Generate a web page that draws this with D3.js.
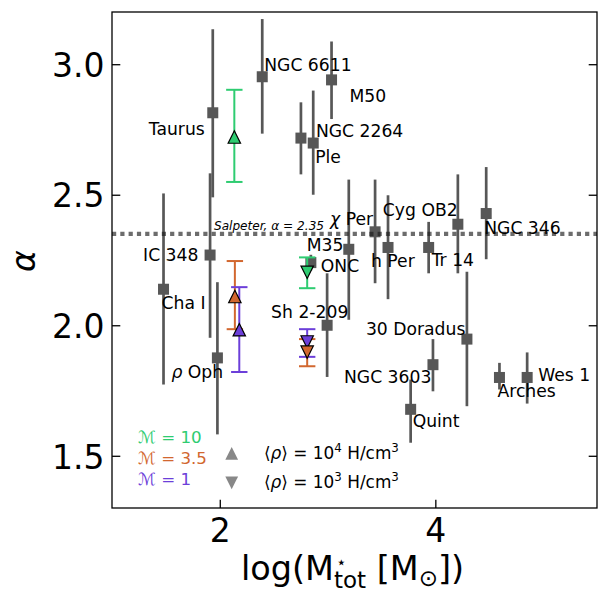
<!DOCTYPE html>
<html>
<head>
<meta charset="utf-8">
<script src="https://cdn.jsdelivr.net/npm/d3@7"></script>
<style>
  body { margin: 0; background: #fff; }
  text { font-family: "DejaVu Sans", sans-serif; }
</style>
</head>
<body>
<svg id="chart" width="601" height="591"></svg>
<script>
// Observed young clusters: total stellar mass (log) vs. IMF slope alpha
const clusterNames = ["Taurus", "IC 348", "Cha I", "ρ Oph", "NGC 6611", "M50", "NGC 2264", "Ple",
  "ONC", "M35", "Sh 2-209", "χ Per", "h Per", "Tr 14", "Cyg OB2", "NGC 346",
  "30 Doradus", "NGC 3603", "Quint", "Arches", "Wes 1"];
const clusterLogMass = [1.935, 1.91, 1.478, 1.978, 2.394, 3.037, 2.753, 2.867,
  2.845, 3.197, 2.996, 3.441, 3.561, 3.938, 4.209, 4.472,
  4.293, 3.978, 3.771, 4.595, 4.852];
const clusterAlpha = [2.814, 2.269, 2.138, 1.875, 2.952, 2.94, 2.717, 2.698,
  2.24, 2.291, 2.0, 2.358, 2.298, 2.298, 2.387, 2.428,
  1.947, 1.849, 1.678, 1.80, 1.80];
const clusterAlphaLow = [2.49, 1.952, 1.773, 1.582, 2.734, 2.79, 2.578, 2.50,
  2.21, 2.021, 1.802, 2.161, 2.10, 2.199, 2.199, 2.253,
  1.69, 1.747, 1.55, 1.754, 1.70];
const clusterAlphaHigh = [3.134, 2.582, 2.505, 2.165, 3.173, 3.087, 2.854, 2.899,
  2.27, 2.558, 2.199, 2.558, 2.498, 2.396, 2.578, 2.606,
  2.205, 1.947, 1.792, 1.856, 1.896];

// Simulations: Mach number runs at two mean densities
const machLabels = ["10", "3.5", "1"];
const denseLogMass = [2.135, 2.14, 2.181];        // <rho> = 1e4 H/cm^3
const denseAlpha = [2.721, 2.11, 1.983];
const denseAlphaLow = [2.549, 1.985, 1.821];
const denseAlphaHigh = [2.902, 2.246, 2.146];
const diffuseLogMass = [2.811, 2.811, 2.811];     // <rho> = 1e3 H/cm^3
const diffuseAlpha = [2.203, 1.897, 1.936];
const diffuseAlphaLow = [2.142, 1.843, 1.879];
const diffuseAlphaHigh = [2.26, 1.947, 1.985];
const densityExponents = ["4", "3"];

const salpeterAlpha = 2.35;
const xTicks = [2, 4];
const yTicks = [1.5, 2.0, 2.5, 3.0];

// ---- layout / styling ----
const machColors = ["#2ecc71", "#d2672f", "#6c3fd9"];
const markerOrder = [0, 2, 1]; // draw M=10, then M=1, then M=3.5 on top
// label offsets from each cluster marker, in pixels
const labelOffsets = [[-64, 22], [-67, 6], [-2, 20], [-46, 20], [2, -6], [18, 22], [15, -1], [2, 20],
  [10, 9], [-42, 2], [-56, -7], [-45, -7], [-17, 20], [3, 19], [-75, -8], [-2, 20],
  [-101, -4], [-89, 18], [2, 18], [-2, 20], [11, 4]];

const svg = d3.select("#chart");
const plotL = 112, plotR = 597, plotT = 12, plotB = 508;
const x = d3.scaleLinear().domain([1, 5.5]).range([plotL, plotR]);
const y = d3.scaleLinear().domain([1.3, 3.2]).range([plotB, plotT]);

// Salpeter reference line
svg.append("line")
  .attr("x1", plotL).attr("x2", plotR)
  .attr("y1", y(salpeterAlpha)).attr("y2", y(salpeterAlpha))
  .attr("stroke", "#6c6c6c").attr("stroke-width", 4.2)
  .attr("stroke-dasharray", "4.2,4.1");

svg.append("text")
  .attr("x", 214).attr("y", y(salpeterAlpha) - 4)
  .attr("font-size", 12.1).attr("font-style", "italic")
  .text("Salpeter, α = 2.35");

// Observed clusters: semi-transparent error bars and squares
const clusters = clusterNames.map((name, i) => ({
  name, lm: clusterLogMass[i], a: clusterAlpha[i],
  lo: clusterAlphaLow[i], hi: clusterAlphaHigh[i], off: labelOffsets[i]
}));

const cg = svg.append("g").selectAll("g").data(clusters).join("g")
  .attr("opacity", 0.73);
cg.append("line")
  .attr("x1", d => x(d.lm)).attr("x2", d => x(d.lm))
  .attr("y1", d => y(d.lo)).attr("y2", d => y(d.hi))
  .attr("stroke", "#1a1a1a").attr("stroke-width", 2.7);
cg.append("rect")
  .attr("x", d => x(d.lm) - 5.5).attr("y", d => y(d.a) - 5.5)
  .attr("width", 11).attr("height", 11)
  .attr("fill", "#1a1a1a");

// Cluster names
const lbl = svg.append("g").selectAll("text").data(clusters).join("text")
  .attr("x", d => x(d.lm) + d.off[0])
  .attr("y", d => y(d.a) + d.off[1])
  .attr("font-size", 17.2)
  .attr("fill", "#000");
lbl.each(function(d) {
  const t = d3.select(this);
  const first = d.name[0];
  if (/[α-ω]/.test(first)) {
    t.append("tspan").attr("font-style", "italic").text(first);
    t.append("tspan").text(d.name.slice(1));
  } else {
    t.text(d.name);
  }
});

// Simulation runs
function simSeries(lm, a, lo, hi, dir) {
  return machLabels.map((m, i) => ({ lm: lm[i], a: a[i], lo: lo[i], hi: hi[i], color: machColors[i], dir, i }));
}
const sims = simSeries(denseLogMass, denseAlpha, denseAlphaLow, denseAlphaHigh, "up")
  .concat(simSeries(diffuseLogMass, diffuseAlpha, diffuseAlphaLow, diffuseAlphaHigh, "down"));

const capW = 8.2;
const sb = svg.append("g").selectAll("g").data(sims).join("g")
  .attr("stroke", d => d.color).attr("stroke-width", 2);
sb.append("line")
  .attr("x1", d => x(d.lm)).attr("x2", d => x(d.lm))
  .attr("y1", d => y(d.lo)).attr("y2", d => y(d.hi));
sb.append("line")
  .attr("x1", d => x(d.lm) - capW).attr("x2", d => x(d.lm) + capW)
  .attr("y1", d => y(d.lo)).attr("y2", d => y(d.lo));
sb.append("line")
  .attr("x1", d => x(d.lm) - capW).attr("x2", d => x(d.lm) + capW)
  .attr("y1", d => y(d.hi)).attr("y2", d => y(d.hi));

function triPath(dir, h) {
  return dir === "up"
    ? `M0,${-h}L${h},${h}L${-h},${h}Z`
    : `M0,${h}L${h},${-h}L${-h},${-h}Z`;
}
const orderedSims = [];
["up", "down"].forEach(dir => markerOrder.forEach(i => orderedSims.push(sims.find(s => s.dir === dir && s.i === i))));
svg.append("g").selectAll("path").data(orderedSims).join("path")
  .attr("transform", d => `translate(${x(d.lm)},${y(d.a)})`)
  .attr("d", d => triPath(d.dir, 6.2))
  .attr("fill", d => d.color)
  .attr("stroke", "#000").attr("stroke-width", 1.2)
  .attr("stroke-linejoin", "miter");

// Legend: Mach numbers
const legM = svg.append("g");
machLabels.forEach((m, i) => {
  const t = legM.append("text")
    .attr("x", 138).attr("y", 443 + i * 21.2)
    .attr("font-size", 16.7).attr("fill", machColors[i]);
  t.append("tspan").attr("font-style", "italic").text("ℳ");
  t.append("tspan").text(" = " + m);
});

// Legend: densities
const legD = svg.append("g");
densityExponents.forEach((e, i) => {
  const cy = 453.3 + i * 29.5;
  legD.append("path")
    .attr("transform", `translate(231.7,${cy})`)
    .attr("d", triPath(i === 0 ? "up" : "down", 6.4))
    .attr("fill", "#888");
  const t = legD.append("text")
    .attr("x", 264).attr("y", cy + 5.5)
    .attr("font-size", 16.9);
  t.append("tspan").text("⟨");
  t.append("tspan").attr("font-style", "italic").text("ρ");
  t.append("tspan").text("⟩ = 10");
  t.append("tspan").attr("font-size", 11.8).attr("dy", -7).text(e);
  t.append("tspan").attr("dy", 7).text(" H/cm");
  t.append("tspan").attr("font-size", 11.8).attr("dy", -7).text("3");
});

// Axes with inward ticks
const tickFont = 33;
const yAxis = svg.append("g").attr("transform", `translate(${plotL},0)`)
  .call(d3.axisLeft(y).tickValues(yTicks).tickFormat(d3.format(".1f")).tickSize(-8.3).tickPadding(7.5));
const yAxisR = svg.append("g").attr("transform", `translate(${plotR},0)`)
  .call(d3.axisRight(y).tickValues(yTicks).tickFormat("").tickSize(-8.3));
const xAxis = svg.append("g").attr("transform", `translate(0,${plotB})`)
  .call(d3.axisBottom(x).tickValues(xTicks).tickFormat(d3.format("d")).tickSize(-8.3).tickPadding(10.6));
[yAxis, yAxisR, xAxis].forEach(g => {
  g.select(".domain").remove();
  g.selectAll(".tick line").attr("stroke", "#000").attr("stroke-width", 1.3);
  g.selectAll(".tick text").attr("font-size", tickFont).attr("fill", "#000")
    .attr("font-family", "DejaVu Sans");
});
yAxis.selectAll(".tick text").attr("dy", "0.37em");

// Frame
svg.append("rect")
  .attr("x", plotL).attr("y", plotT)
  .attr("width", plotR - plotL).attr("height", plotB - plotT)
  .attr("fill", "none").attr("stroke", "#000").attr("stroke-width", 1.3);

// Axis titles
svg.append("text")
  .attr("transform", "translate(35,261) rotate(-90)")
  .attr("text-anchor", "middle")
  .attr("font-size", 33).attr("font-style", "italic")
  .text("α");

// x title: star superscript stacked above the "tot" subscript
const xl = svg.append("text")
  .attr("x", 352.5).attr("y", 580)
  .attr("text-anchor", "middle")
  .attr("font-size", 33.5);
xl.append("tspan").text("log(M");
const star = xl.append("tspan").attr("font-size", 17).attr("dx", 2).attr("dy", -12).text("⋆");
const sub = xl.append("tspan").attr("font-size", 23).attr("dy", 19.5).text("tot");
sub.attr("dx", -(star.node().getComputedTextLength() + 2));
xl.append("tspan").attr("dy", -7.5).text(" [M");
xl.append("tspan").attr("font-size", 23).attr("dy", 6).text("⊙");
xl.append("tspan").attr("dy", -6).text("])");
</script>
</body>
</html>
